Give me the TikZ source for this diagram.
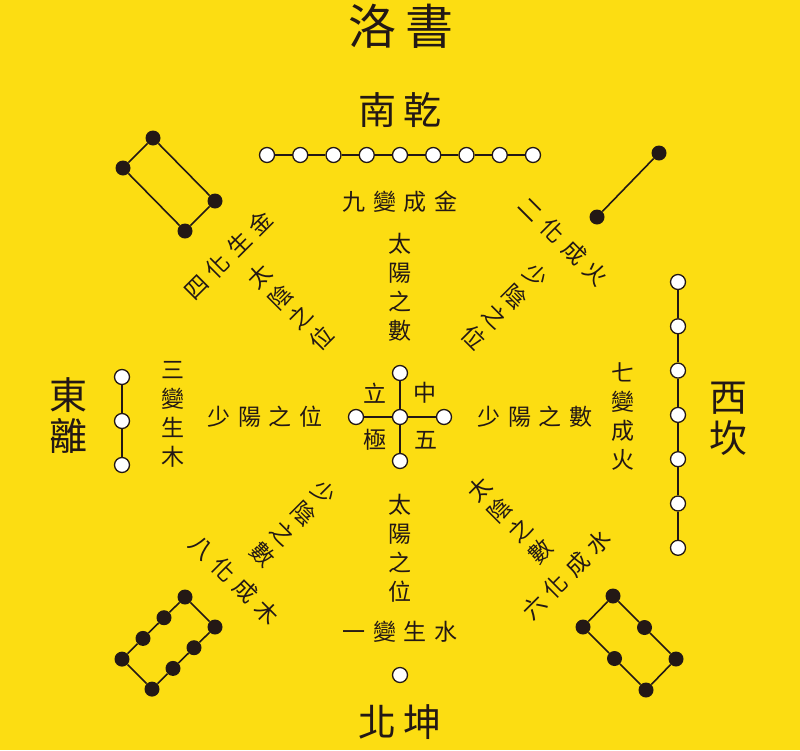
\documentclass[tikz,border=0pt]{standalone}
\usepackage{fontspec}
\newfontfamily\cjk{Noto Sans CJK TC}
\definecolor{luoyellow}{RGB}{252,221,18}
\definecolor{ink}{RGB}{35,24,21}
\newcommand{\gapk}{\kern7.5pt}

\begin{document}
\begin{tikzpicture}[x=1pt, y=-1pt, color=ink,
        yang/.style={circle, draw=ink, fill=white, line width=1.3pt, minimum size=15pt, inner sep=0pt},
        yin/.style={circle, fill=ink, minimum size=15pt, inner sep=0pt},
        link/.style={line width=1.6pt},
        word/.style={font=\cjk\fontsize{23}{29}\selectfont, inner sep=0pt, align=center},
        big/.style={font=\cjk\fontsize{38}{41}\selectfont, inner sep=0pt, align=center}]
    \fill[luoyellow] (0,0) rectangle (800,750);
    \useasboundingbox (0,0) rectangle (800,750);

    % titles and the four sides
    \node[font=\cjk\fontsize{48}{48}\selectfont, inner sep=0pt] (title) at (401,26) {洛\kern9pt 書};
    \node[big] (nanqian) at (400,110) {南\kern7pt 乾};
    \node[big] (beikun) at (400,722) {北\kern7pt 坤};
    \node[big] (dongli) at (68,416) {東\\離};
    \node[big] (xikan) at (728,419) {西\\坎};

    % nine, top
    \foreach \i in {0,...,8}
        \node[yang] (nine\i) at ({267+33.25*\i},155) {};
    \foreach \i [count=\j from 1] in {0,...,7}
        \draw[link] (nine\i) -- (nine\j);
    \node[word] (metal) at (400,202) {九\gapk 變\gapk 成\gapk 金};
    \node[word] (sunnum) at (400,287) {太\\陽\\之\\數};

    % one, bottom
    \node[yang] (one) at (400,675) {};
    \node[word] (water) at (400,632) {一\gapk 變\gapk 生\gapk 水};
    \node[word] (sunpos) at (400,548) {太\\陽\\之\\位};

    % three, left
    \foreach \i in {0,...,2}
        \node[yang] (three\i) at (122,{377+44*\i}) {};
    \draw[link] (three0) -- (three1) -- (three2);
    \node[word] (wood) at (173,414) {三\\變\\生\\木};
    \node[word] (ysunpos) at (265,417) {少\gapk 陽\gapk 之\gapk 位};

    % seven, right
    \foreach \i in {0,...,6}
        \node[yang] (seven\i) at (678,{282+44.3*\i}) {};
    \foreach \i [count=\j from 1] in {0,...,5}
        \draw[link] (seven\i) -- (seven\j);
    \node[word] (fire) at (623,417) {七\\變\\成\\火};
    \node[word] (ysunnum) at (535,417) {少\gapk 陽\gapk 之\gapk 數};

    % five, centre
    \node[yang] (five) at (400,417) {};
    \node[yang] (fiveN) at (400,373) {};
    \node[yang] (fiveS) at (400,461) {};
    \node[yang] (fiveW) at (356,417) {};
    \node[yang] (fiveE) at (444,417) {};
    \draw[link] (fiveN) -- (five) -- (fiveS);
    \draw[link] (fiveW) -- (five) -- (fiveE);
    \node[word] (li) at (375,393) {立};
    \node[word] (zhong) at (425,393) {中};
    \node[word] (ji) at (375,440) {極};
    \node[word] (wu) at (426,440) {五};

    % four, upper left
    \node[yin] (four1) at (153,138) {};
    \node[yin] (four2) at (123,168) {};
    \node[yin] (four3) at (185,231) {};
    \node[yin] (four4) at (215,201) {};
    \draw[link] (four1) -- (four2) -- (four3) -- (four4) -- (four1);
    \node[word, rotate=45] (metal4) at (228.5,255) {四\gapk 化\gapk 生\gapk 金};
    \node[word, rotate=45] (moonpos) at (290.5,307) {太\\陰\\之\\位};

    % two, upper right
    \node[yin] (two1) at (659,153) {};
    \node[yin] (two2) at (597,217) {};
    \draw[link] (two1) -- (two2);
    \node[word, rotate=-45] (fire2) at (563.5,241.5) {二\gapk 化\gapk 成\gapk 火};
    \node[word, rotate=-45] (ymoonpos) at (505,306.5) {少\\陰\\之\\位};

    % eight, lower left
    \foreach \i in {0,...,3} {
        \node[yin] (eightA\i) at ({185-21*\i},{597+20.7*\i}) {};
        \node[yin] (eightB\i) at ({215-21*\i},{627+20.7*\i}) {};
    }
    \draw[link] (eightA0) -- (eightA1) -- (eightA2) -- (eightA3) -- (eightB3)
        -- (eightB2) -- (eightB1) -- (eightB0) -- (eightA0);
    \node[word, rotate=-45] (wood8) at (234.5,580) {八\gapk 化\gapk 成\gapk 木};
    \node[word, rotate=-45] (ymoonnum) at (293.5,523.5) {少\\陰\\之\\數};

    % six, lower right
    \foreach \i in {0,...,2} {
        \node[yin] (sixA\i) at ({613+31.5*\i},{596+31.5*\i}) {};
        \node[yin] (sixB\i) at ({583+31.5*\i},{627+31.5*\i}) {};
    }
    \draw[link] (sixA0) -- (sixA1) -- (sixA2) -- (sixB2) -- (sixB1) -- (sixB0) -- (sixA0);
    \node[word, rotate=45] (water6) at (566.5,575) {六\gapk 化\gapk 成\gapk 水};
    \node[word, rotate=45] (moonnum) at (510,520) {太\\陰\\之\\數};
\end{tikzpicture}
\end{document}
